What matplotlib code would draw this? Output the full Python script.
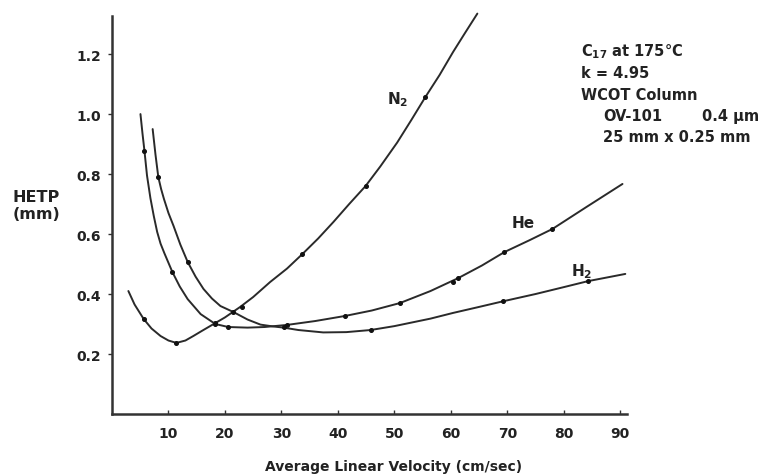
import matplotlib
matplotlib.use("Agg")
import matplotlib.pyplot as plt

# ---- data ----
n2_x = [2.9, 4.0, 5.6, 7.0, 8.6, 10.0, 11.4, 13.0, 14.4, 16.0, 18.0, 20.0, 22.7, 25.0, 28.0,
        31.0, 33.7, 36.5, 39.2, 42.0, 44.9, 47.5, 50.5, 53.0, 55.5, 58.0, 60.4, 62.5, 64.7]
n2_y = [0.41, 0.365, 0.317, 0.285, 0.26, 0.245, 0.237, 0.245, 0.26, 0.278, 0.30, 0.322, 0.357, 0.39, 0.44,
        0.485, 0.533, 0.585, 0.64, 0.70, 0.76, 0.825, 0.905, 0.98, 1.057, 1.13, 1.207, 1.27, 1.335]
n2_px = [5.6, 11.4, 18.3, 23.0, 33.7, 44.9, 55.5]
n2_py = [0.317, 0.237, 0.303, 0.357, 0.533, 0.76, 1.057]

he_x = [5.04, 5.4, 5.75, 6.2, 6.8, 7.4, 8.0, 8.6, 9.3, 10.7, 12.0, 13.4, 15.7, 18.3, 20.6, 24.0, 27.0, 31.0, 36.0,
        41.3, 46.0, 51.0, 56.4, 61.3, 65.5, 69.5, 74.0, 78.0, 84.0, 90.4]
he_y = [1.0, 0.935, 0.877, 0.795, 0.72, 0.66, 0.607, 0.568, 0.535, 0.473, 0.425, 0.383, 0.333, 0.30, 0.29, 0.288, 0.29, 0.297, 0.31,
        0.327, 0.345, 0.37, 0.41, 0.453, 0.495, 0.54, 0.58, 0.617, 0.69, 0.767]
he_px = [5.75, 10.7, 18.3, 20.6, 31.0, 41.3, 51.0, 60.4, 61.3, 69.5, 78.0]
he_py = [0.877, 0.473, 0.30, 0.29, 0.297, 0.327, 0.37, 0.44, 0.453, 0.54, 0.617]

h2_x = [7.2, 7.7, 8.2, 8.7, 9.2, 10.0, 10.9, 12.1, 13.4, 14.8, 16.2, 17.7, 19.2, 21.5, 24.0, 26.3, 28.5, 30.4, 33.0, 37.4, 41.5,
        45.8, 50.0, 56.4, 60.4, 65.0, 69.3, 75.0, 80.0, 84.3, 90.9]
h2_y = [0.95, 0.865, 0.79, 0.75, 0.717, 0.67, 0.627, 0.565, 0.507, 0.458, 0.417, 0.385, 0.36, 0.34, 0.315, 0.298, 0.292, 0.288, 0.28, 0.272, 0.273,
        0.28, 0.293, 0.318, 0.337, 0.357, 0.376, 0.40, 0.423, 0.443, 0.467]
h2_px = [8.2, 13.4, 21.5, 30.4, 45.8, 69.3, 84.3]
h2_py = [0.79, 0.507, 0.34, 0.29, 0.28, 0.376, 0.443]

x_ticks = [10, 20, 30, 40, 50, 60, 70, 80, 90]
y_ticks = [0.2, 0.4, 0.6, 0.8, 1.0, 1.2]
y_ticklabels = ["0.2", "0.4", "0.6", "0.8", "1.0", "1.2"]

plt.rcParams['font.family'] = ['DejaVu Sans']
plt.rcParams['font.weight'] = 'bold'

W, H = 761, 477
fig = plt.figure(figsize=(W / 100, H / 100), dpi=100)
ax = fig.add_axes([112 / W, 1 - 415 / H, (627 - 112) / W, (415 - 17) / H])

lc = '#2a2a2a'
for xs, ys, mx, my in [(n2_x, n2_y, n2_px, n2_py), (he_x, he_y, he_px, he_py), (h2_x, h2_y, h2_px, h2_py)]:
    ax.plot(xs, ys, color=lc, lw=1.4, solid_capstyle='round', solid_joinstyle='round', clip_on=False)
    ax.plot(mx, my, 'o', color='#111111', ms=2.6, clip_on=False)

ax.set_xlim(0, 91.2)
ax.set_ylim(0, 1.327)
for s in ['top', 'right']:
    ax.spines[s].set_visible(False)
for s in ['left', 'bottom']:
    ax.spines[s].set_linewidth(1.8)
    ax.spines[s].set_color('#333333')

ax.set_xticks(x_ticks)
ax.set_yticks(y_ticks)
ax.set_yticklabels(y_ticklabels)
ax.tick_params(axis='x', direction='in', length=3, width=1, pad=9, labelsize=10, colors='#333333', labelcolor='#222222')
ax.tick_params(axis='y', direction='out', length=3, width=1, pad=5, labelsize=10, colors='#333333', labelcolor='#222222')
for lab in ax.get_xticklabels() + ax.get_yticklabels():
    lab.set_fontweight('bold')

def ft(px, py, s, **kw):
    fig.text(px / W, 1 - py / H, s, **kw)

ft(36, 206, "HETP\n(mm)", ha='center', va='center', fontsize=11.5, fontweight='bold', color='#222222', linespacing=1.15)
ft(394, 467, "Average Linear Velocity (cm/sec)", ha='center', va='center', fontsize=10, fontweight='bold', color='#222222')

ft(398, 100, r"N$_\mathbf{2}$", ha='center', va='center', fontsize=11, fontweight='bold', color='#222222')
ft(523, 223, "He", ha='center', va='center', fontsize=11, fontweight='bold', color='#222222')
ft(582, 272, r"H$_\mathbf{2}$", ha='center', va='center', fontsize=11, fontweight='bold', color='#222222')

ann_kw = dict(va='center', fontsize=10.5, fontweight='bold', color='#222222')
ft(581, 52, r"C$_\mathbf{17}$ at 175°C", ha='left', **ann_kw)
ft(581, 73, "k = 4.95", ha='left', **ann_kw)
ft(581, 95, "WCOT Column", ha='left', **ann_kw)
ft(603, 117, "OV-101", ha='left', **ann_kw)
ft(759, 117, "0.4 µm", ha='right', **ann_kw)
ft(603, 137, "25 mm x 0.25 mm", ha='left', **ann_kw)

fig.savefig("out.png", dpi=100, facecolor='white')
